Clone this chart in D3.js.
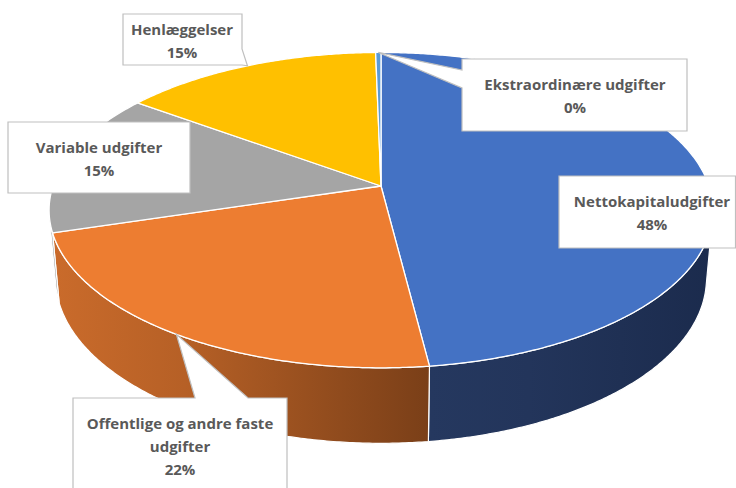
<!DOCTYPE html>
<html>
<head>
<meta charset="utf-8">
<script src="https://cdn.jsdelivr.net/npm/d3@7/dist/d3.min.js"></script>
<style>
  body { margin: 0; background: #ffffff; }
  #chart { width: 736px; height: 488px; }
</style>
</head>
<body>
<div id="chart"></div>
<script>
// chart values (percent of total)
var categories = ["Nettokapitaludgifter", "Offentlige og andre faste udgifter", "Variable udgifter", "Henlæggelser", "Ekstraordinære udgifter"];
var values = [48.0, 22.3, 14.7, 14.7, 0.3];
var sliceColors = ["#4472C4", "#ED7D31", "#A5A5A5", "#FFC000", "#5B9BD5"];

// side wall shading, light end -> dark end
var wallColors = [["#25385F", "#1B2B4D"], ["#CA6B2B", "#7A3F18"], ["#8E8E8E", "#8E8E8E"], ["#BF9000", "#BF9000"], ["#41719C", "#41719C"]];

// callout boxes (layout only)
var callouts = [
  { x: 559, y: 176, w: 176.5, h: 72, tx: 652 },
  { x: 73, y: 398, w: 214, h: 100, tx: 180, side: "top", b: [195, 248] },
  { x: 8, y: 122, w: 182, h: 71, tx: 99 },
  { x: 123, y: 14, w: 119, h: 51, tx: 182, side: "right", b: [49, 65] },
  { x: 462, y: 59, w: 225, h: 72, tx: 575, side: "left", b: [70, 88] }
];

var width = 736, height = 488;

// 3D pie projection parameters
var cx = 381, cy = 186, A = 328, k = 5.77, tilt = 28 * Math.PI / 180, thick = 0.238;
var sT = Math.sin(tilt), cT = Math.cos(tilt);

function proj(a, h) {
  var depth = k + Math.cos(a) * cT - h * sT;
  var up = h * cT + Math.cos(a) * sT;
  return [cx + A * k * Math.sin(a) / depth, cy - A * k * up / depth];
}

function arcPts(a0, a1, h) {
  var n = Math.max(2, Math.ceil(Math.abs(a1 - a0) / (0.5 * Math.PI / 180)));
  var pts = [];
  for (var i = 0; i <= n; i++) {
    pts.push(proj(a0 + (a1 - a0) * i / n, h));
  }
  return pts;
}

var svg = d3.select("#chart")
  .append("svg")
  .attr("width", width)
  .attr("height", height);

var defs = svg.append("defs");

var pie = d3.pie().sort(null).value(function (d) { return d; });
var arcs = pie(values);
var total = d3.sum(values);
var pct = d3.format(".0%");

var line = d3.line();

// visible part of the outer wall
var aMin = Math.acos(-1 / (k * cT));
var aMax = 2 * Math.PI - aMin;

var walls = svg.append("g");
arcs.forEach(function (d, i) {
  var lo = Math.max(d.startAngle, aMin);
  var hi = Math.min(d.endAngle, aMax);
  if (hi <= lo) return;
  var p0 = proj(lo, 0), p1 = proj(hi, 0);
  var gid = "wall" + i;
  var grad = defs.append("linearGradient")
    .attr("id", gid)
    .attr("gradientUnits", "userSpaceOnUse")
    .attr("x1", Math.min(p0[0], p1[0])).attr("y1", 0)
    .attr("x2", Math.max(p0[0], p1[0])).attr("y2", 0);
  var leftCol = wallColors[i][0], rightCol = wallColors[i][1];
  grad.append("stop").attr("offset", "0%").attr("stop-color", leftCol);
  grad.append("stop").attr("offset", "35%").attr("stop-color", d3.interpolateRgb(leftCol, rightCol)(0.25));
  grad.append("stop").attr("offset", "100%").attr("stop-color", rightCol);
  var pts = arcPts(lo, hi, 0).concat(arcPts(hi, lo, -thick));
  walls.append("path")
    .attr("d", line(pts) + "Z")
    .attr("fill", "url(#" + gid + ")")
    .attr("stroke", "#ffffff")
    .attr("stroke-width", 1.2)
    .attr("stroke-linejoin", "round");
});

// top face slices
var tops = svg.append("g");
arcs.forEach(function (d, i) {
  var pts = [[cx, cy]].concat(arcPts(d.startAngle, d.endAngle, 0));
  tops.append("path")
    .attr("d", line(pts) + "Z")
    .attr("fill", sliceColors[i])
    .attr("stroke", "#ffffff")
    .attr("stroke-width", 1.3)
    .attr("stroke-linejoin", "round");
});

// callout shape with optional tail pointing to the slice edge
function calloutPath(c, apex) {
  var x0 = c.x, y0 = c.y, x1 = c.x + c.w, y1 = c.y + c.h;
  var pts = [[x0, y0]];
  if (c.side === "top") pts.push([c.b[0], y0], apex, [c.b[1], y0]);
  pts.push([x1, y0]);
  if (c.side === "right") pts.push([x1, c.b[0]], apex, [x1, c.b[1]]);
  pts.push([x1, y1], [x0, y1]);
  if (c.side === "left") pts.push([x0, c.b[1]], apex, [x0, c.b[0]]);
  return line(pts) + "Z";
}

var labels = svg.append("g")
  .attr("font-family", "'Open Sans', sans-serif")
  .attr("font-weight", "bold")
  .attr("font-size", "15px")
  .attr("fill", "#595959");

arcs.forEach(function (d, i) {
  var c = callouts[i];
  var mid = (d.startAngle + d.endAngle) / 2;
  var apex = proj(mid, 0);
  labels.append("path")
    .attr("d", calloutPath(c, apex))
    .attr("fill", "#ffffff")
    .attr("stroke", "#BFBFBF")
    .attr("stroke-width", 1.2);

  var text = labels.append("text")
    .attr("text-anchor", "middle");

  // wrap the category name to the box width
  var words = categories[i].split(" ");
  var lines = [];
  var cur = "";
  var probe = labels.append("text").attr("visibility", "hidden");
  words.forEach(function (w) {
    var test = cur ? cur + " " + w : w;
    probe.text(test);
    if (cur && probe.node().getComputedTextLength() > c.w - 8) {
      lines.push(cur);
      cur = w;
    } else {
      cur = test;
    }
  });
  lines.push(cur);
  probe.remove();
  lines.push(pct(d.value / total));

  var lh = 23;
  var boxH = Math.min(c.h, 72);
  var startY = c.y + boxH / 2 + 1.5 - (lines.length - 1) * lh / 2;
  if (lines.length > 2) startY = c.y + 26;
  lines.forEach(function (l, j) {
    text.append("tspan")
      .attr("x", c.tx)
      .attr("y", startY + j * lh)
      .attr("dy", "0.35em")
      .text(l);
  });
});
</script>
</body>
</html>
